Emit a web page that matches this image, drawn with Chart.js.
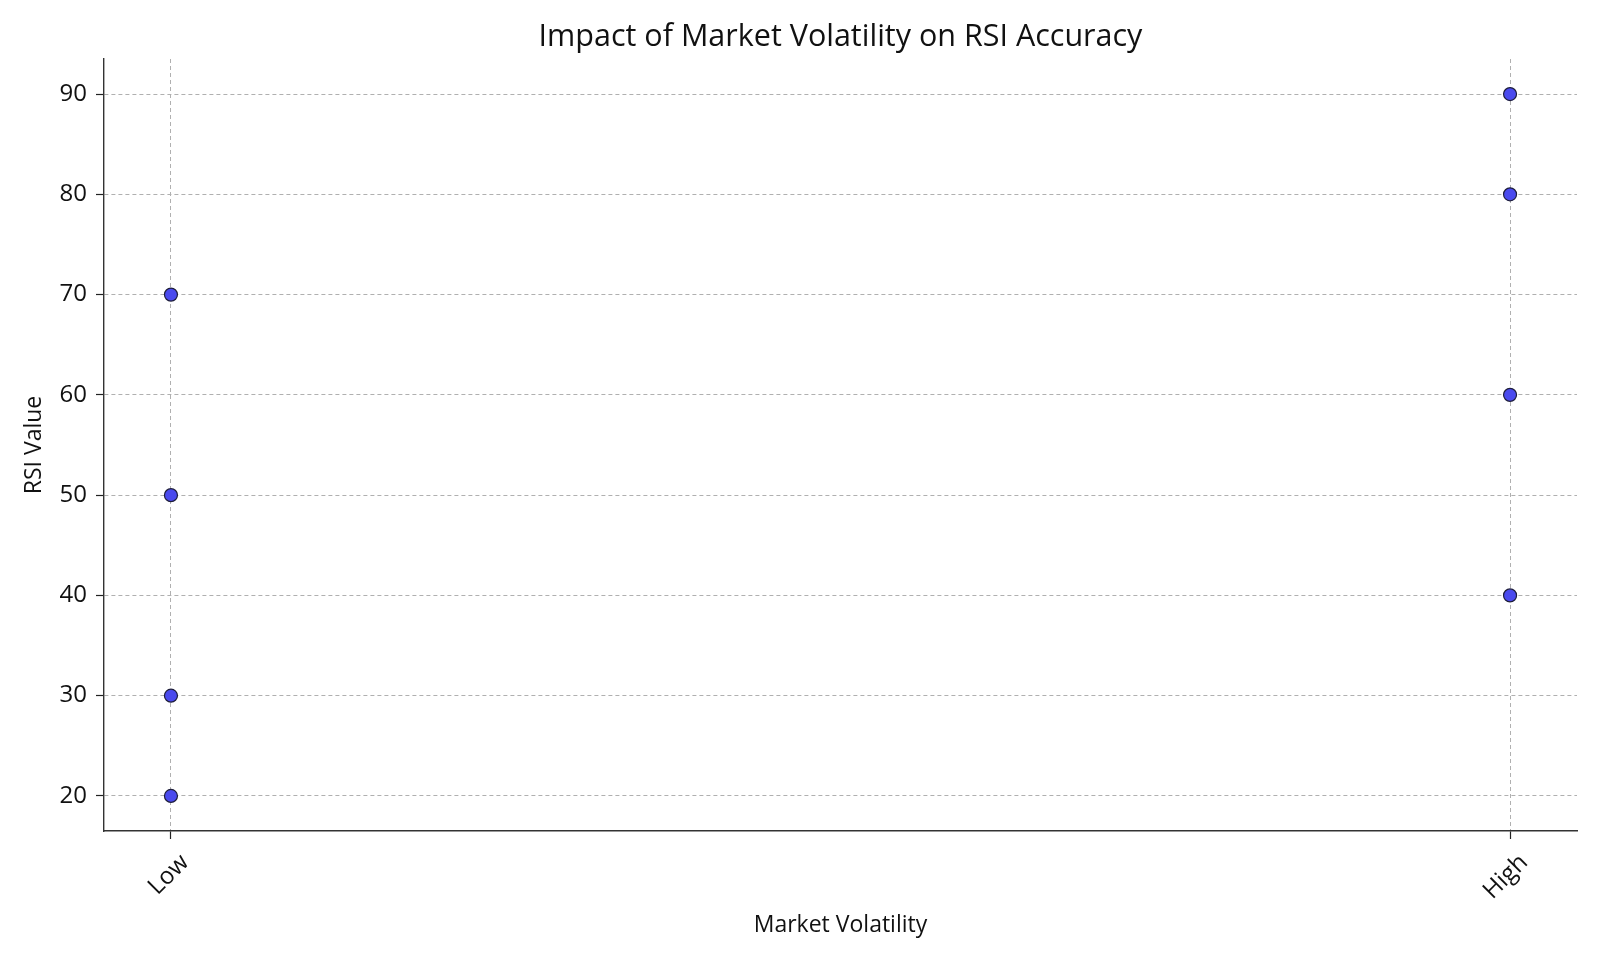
<!DOCTYPE html>
<html>
<head>
<meta charset="utf-8">
<script src="https://cdn.jsdelivr.net/npm/chart.js@4/dist/chart.umd.min.js"></script>
<style>
	body { margin: 0; background: #fff; }
	#chart { display: block; }
</style>
</head>
<body>
<canvas id="chart" width="1600" height="960"></canvas>
<script>
// categories on the x axis
const categories = ["Low", "High"];
// RSI readings for each volatility level
const lowValues = [70, 50, 30, 20];
const highValues = [90, 80, 60, 40];
const yTicks = [20, 30, 40, 50, 60, 70, 80, 90];
const chartTitle = "Impact of Market Volatility on RSI Accuracy";

// scatter points sit on the category index
function toPoints(values, catIndex) {
	let out = [];
	values.forEach((v) => {
		out.push({ x: catIndex, y: v });
	});
	return out;
}

const points = toPoints(lowValues, 0).concat(toPoints(highValues, 1));

const fontFamily = "'Open Sans', 'DejaVu Sans', sans-serif";

// title centred over the plot area (not the whole canvas)
const axesTitle = {
	id: "axesTitle",
	afterDraw(chart) {
		const ctx = chart.ctx;
		const area = chart.chartArea;
		ctx.save();
		ctx.fillStyle = "#111";
		ctx.font = "30.5px " + fontFamily;
		ctx.textAlign = "center";
		ctx.textBaseline = "middle";
		ctx.fillText(chartTitle, (area.left + area.right) / 2, area.top - 22);
		ctx.restore();
	},
};

const gridOpts = {
	color: "#b0b0b0",
	lineWidth: 1,
	drawTicks: true,
	tickLength: 8,
	tickColor: "#222",
	tickWidth: 1.2,
	tickBorderDash: [],
};

const borderOpts = { color: "#333", width: 1.4, dash: [4, 3] };

new Chart(document.getElementById("chart"), {
	type: "scatter",
	data: {
		datasets: [
			{
				label: "RSI",
				data: points,
				backgroundColor: "#4a4aee",
				borderColor: "#1e1e3a",
				borderWidth: 1.2,
				pointRadius: 6.5,
				pointHoverRadius: 6.5,
			},
		],
	},
	plugins: [axesTitle],
	options: {
		responsive: false,
		devicePixelRatio: 1,
		animation: false,
		layout: { padding: { left: 17, right: 23, top: 59, bottom: 17 } },
		plugins: {
			legend: { display: false },
			tooltip: { enabled: false },
			title: { display: false },
		},
		scales: {
			x: {
				type: "linear",
				min: -0.05,
				max: 1.05,
				afterFit: (scale) => {
					scale.height = 112;
				},
				afterBuildTicks: (scale) => {
					scale.ticks = categories.map((c, i) => ({ value: i }));
				},
				grid: gridOpts,
				border: borderOpts,
				ticks: {
					callback: (v) => categories[v],
					minRotation: 45,
					maxRotation: 45,
					labelOffset: 14,
					padding: 9.5,
					color: "#111",
					font: { family: fontFamily, size: 24 },
				},
				title: {
					display: true,
					text: "Market Volatility",
					color: "#111",
					font: { family: fontFamily, size: 23 },
				},
			},
			y: {
				min: 16.5,
				max: 93.5,
				afterFit: (scale) => {
					scale.width = 87;
				},
				afterBuildTicks: (scale) => {
					scale.ticks = yTicks.map((v) => ({ value: v }));
				},
				grid: gridOpts,
				border: borderOpts,
				ticks: {
					padding: 9,
					color: "#111",
					font: { family: fontFamily, size: 24 },
				},
				title: {
					display: true,
					text: "RSI Value",
					color: "#111",
					font: { family: fontFamily, size: 23 },
				},
			},
		},
	},
});
</script>
</body>
</html>
